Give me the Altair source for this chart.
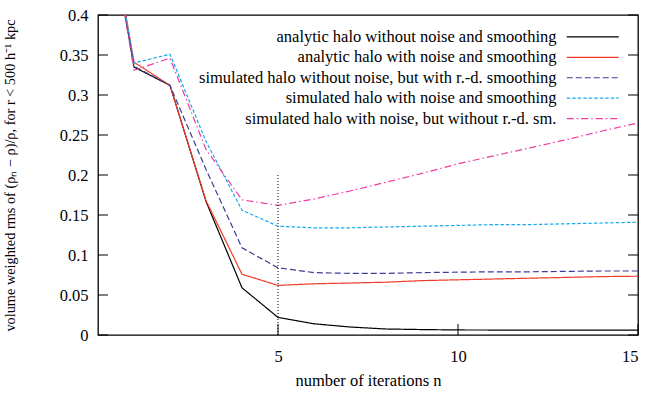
import altair as alt
import pandas as pd

iterations = list(range(0, 16))
series_names = [
    "analytic halo without noise and smoothing",
    "analytic halo with noise and smoothing",
    "simulated halo without noise, but with r.-d. smoothing",
    "simulated halo with noise and smoothing",
    "simulated halo with noise, but without r.-d. sm.",
]
analytic_clean = [0.6, 0.335, 0.312, 0.167, 0.059, 0.022, 0.014, 0.010, 0.0075, 0.0068, 0.0063, 0.0062, 0.006, 0.006, 0.006, 0.006]
analytic_noisy = [0.6, 0.341, 0.312, 0.168, 0.076, 0.062, 0.064, 0.065, 0.066, 0.068, 0.069, 0.070, 0.071, 0.072, 0.073, 0.0735]
sim_clean = [0.6, 0.336, 0.312, 0.207, 0.109, 0.084, 0.078, 0.077, 0.077, 0.078, 0.0785, 0.079, 0.079, 0.0795, 0.080, 0.080]
sim_noisy = [0.6, 0.340, 0.351, 0.242, 0.156, 0.136, 0.134, 0.134, 0.135, 0.136, 0.137, 0.138, 0.138, 0.139, 0.140, 0.141]
sim_noisy_nosm = [0.6, 0.331, 0.346, 0.232, 0.169, 0.162, 0.170, 0.180, 0.191, 0.202, 0.214, 0.224, 0.234, 0.244, 0.255, 0.265]
colors = ["#000000", "#f03c28", "#3c3c96", "#14aaf0", "#f03ca0"]
dashes = [[1, 0], [1, 0], [6, 3], [3.5, 2], [7, 3, 1.5, 3]]

y_ticks = [0, 0.05, 0.1, 0.15, 0.2, 0.25, 0.3, 0.35, 0.4]
x_ticks = [5, 10, 15]
marker_x = [5]
marker_y_top = [0.2]

all_series = [analytic_clean, analytic_noisy, sim_clean, sim_noisy, sim_noisy_nosm]
rows = []
for name, vals in zip(series_names, all_series):
    for n, v in zip(iterations, vals):
        rows.append({"n": n, "rms": v, "series": name})
df = pd.DataFrame(rows)

W, H = 540, 320
FONT = "Liberation Serif"
FS = 16.5

xscale = alt.Scale(domain=[0, 15], nice=False, zero=False)
yscale = alt.Scale(domain=[0, 0.4], nice=False, zero=False)

x_axis = alt.Axis(values=x_ticks, title="number of iterations n", ticks=False, domain=False,
                  grid=False, labelPadding=13, titlePadding=8, labelOverlap=False)
y_axis = alt.Axis(values=y_ticks, format=".2~f",
                  title="volume weighted rms of (ρₙ − ρ)/ρ, for r < 500 h⁻¹ kpc",
                  ticks=False, domain=False, grid=False, labelPadding=10, titlePadding=42,
                  titleFontSize=14.3, labelOverlap=False)

lines = alt.Chart(df).mark_line(strokeWidth=1.2, clip=True).encode(
    x=alt.X("n:Q", scale=xscale, axis=x_axis),
    y=alt.Y("rms:Q", scale=yscale, axis=y_axis),
    color=alt.Color("series:N", scale=alt.Scale(domain=series_names, range=colors),
                    legend=alt.Legend(title=None, orient="none", legendX=486.5, legendY=13.7,
                                      symbolType="M-4,0H4", symbolSize=169, symbolStrokeWidth=1.2,
                                      labelAlign="right", labelOffset={"expr": "-44.5"},
                                      rowPadding=3.4, labelFont=FONT, labelFontSize=FS,
                                      labelColor="black", labelLimit=500, padding=0)),
    strokeDash=alt.StrokeDash("series:N", scale=alt.Scale(domain=series_names, range=dashes),
                              legend=None),
)

marker = alt.Chart(pd.DataFrame({"n": marker_x, "lo": [0], "hi": marker_y_top})).mark_rule(
    color="black", strokeDash=[1, 2], strokeWidth=1).encode(
    x=alt.X("n:Q", scale=xscale, axis=x_axis), y=alt.Y("lo:Q", scale=yscale, axis=y_axis), y2="hi:Q")

ytick_df = pd.DataFrame({"v": y_ticks})
left_ticks = alt.Chart(ytick_df).mark_rule(color="black", strokeWidth=1).encode(
    y=alt.Y("v:Q", scale=yscale, axis=y_axis), x=alt.value(0), x2=alt.value(10))
right_ticks = alt.Chart(ytick_df).mark_rule(color="black", strokeWidth=1).encode(
    y=alt.Y("v:Q", scale=yscale, axis=y_axis), x=alt.value(W - 10), x2=alt.value(W))
bottom_ticks = alt.Chart(pd.DataFrame({"v": x_ticks})).mark_rule(color="black", strokeWidth=1).encode(
    x=alt.X("v:Q", scale=xscale, axis=x_axis), y=alt.value(H - 11), y2=alt.value(H))

chart = alt.layer(lines, marker, left_ticks, right_ticks, bottom_ticks).properties(
    width=W, height=H,
    background="white",
    autosize=alt.AutoSizeParams(type="none"),
    padding={"left": 98, "top": 15, "right": 10, "bottom": 61},
).configure_view(stroke="black", strokeWidth=1.3).configure_axis(
    labelFont=FONT, labelFontSize=FS, labelColor="black",
    titleFont=FONT, titleFontSize=FS, titleColor="black", titleFontWeight="normal",
)

chart.save("out.html", embed_options={"renderer": "svg", "actions": False})
